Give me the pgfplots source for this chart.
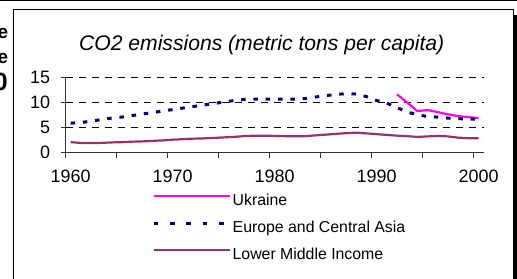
\documentclass[border=0pt]{standalone}
\usepackage{pgfplots}
\pgfplotsset{compat=1.18}
\usepackage{fontspec}
\setmainfont{Liberation Sans}
\definecolor{ukr}{RGB}{255,0,255}
\definecolor{eca}{RGB}{0,0,128}
\definecolor{lmi}{RGB}{153,51,102}
\pgfplotsset{ecaleg/.style={legend image code/.code={\draw[##1, dash pattern=on 4.7bp off 11.6bp] (0bp,5.7bp) -- (76bp,5.7bp);}}}
\begin{document}
\begin{tikzpicture}[x=1bp,y=1bp]
\useasboundingbox (0,0) rectangle (517,278);
\draw[line width=1.5bp] (0,277.3) -- (517,277.3);
\fill (513.5,-2) rectangle (517,263);
\draw[line width=1bp] (13.5,-5) -- (13.5,268.7) -- (513,268.7) -- (513,-5);
\node[anchor=base east, inner sep=0pt, font=\bfseries\fontsize{19}{19}\selectfont] at (8.3,239.7) {e};
\node[anchor=base east, inner sep=0pt, font=\bfseries\fontsize{19}{19}\selectfont] at (8.3,215) {e};
\node[anchor=base east, inner sep=0pt, font=\bfseries\fontsize{25}{25}\selectfont] at (8,188) {0};
\node[anchor=base, inner sep=0pt, font=\itshape\fontsize{21.2}{21.2}\selectfont] at (261.7,228) {CO2 emissions (metric tons per capita)};
\begin{axis}[
  at={(65.5bp,125.3bp)}, anchor=south west,
  width=418.2bp, height=75.2bp, scale only axis,
  xmin=1959.5, xmax=2000.5, ymin=0, ymax=15,
  axis lines*=left,
  axis line style={line width=0.9bp, black!80},
  tick align=outside, major tick length=5bp,
  tick style={line width=0.9bp, black!80},
  xtick={1959.5,1964.5,...,1999.5},
  xticklabels={},
  extra x ticks={1960,1970,1980,1990,2000},
  extra x tick labels={1960,1970,1980,1990,2000},
  extra x tick style={major tick length=0pt, grid=none},
  ytick={0,5,10,15},
  /pgf/number format/assume math mode=true,
  ymajorgrids,
  major grid style={black, line width=0.8bp, dash pattern=on 7bp off 6bp},
  tick label style={font=\fontsize{18}{18}\selectfont},
  x tick label style={yshift=-14bp},
  y tick label style={xshift=-7bp},
  legend style={at={(rel axis cs:0.2068,-0.552)}, anchor=north west,
    draw=none, fill=none, inner sep=0pt, row sep=12.1bp, column sep=1.5bp,
    font=\fontsize{15.9}{15.9}\selectfont,
    nodes={inner sep=0pt, text height=11.5bp, text depth=3.4bp}},
  legend cell align=left,
  legend image code/.code={\draw[#1] (0bp,5.7bp) -- (76bp,5.7bp);},
]
\addplot[ukr, line width=2.2bp, line join=round] coordinates {
(1992,11.65) (1993,10.0) (1994,8.3) (1995,8.5) (1996,8.1) (1997,7.65) (1998,7.3) (1999,7.1) (2000,6.9)};
\addlegendentry{Ukraine}
\addplot[eca, line width=3bp, dash pattern=on 4.5bp off 7.8bp, ecaleg] coordinates {
(1960,5.9) (1961,6.0) (1962,6.3) (1963,6.6) (1964,6.9) (1965,7.1) (1966,7.4) (1967,7.7) (1968,8.0) (1969,8.3)
(1970,8.6) (1971,8.9) (1972,9.2) (1973,9.5) (1974,9.8) (1975,10.1) (1976,10.4) (1977,10.6) (1978,10.7) (1979,10.7)
(1980,10.7) (1981,10.7) (1982,10.7) (1983,10.8) (1984,11.1) (1985,11.4) (1986,11.6) (1987,11.8) (1988,11.7) (1989,11.2)
(1990,10.4) (1991,9.9) (1992,9.0) (1993,8.1) (1994,7.6) (1995,7.2) (1996,7.1) (1997,6.9) (1998,6.8) (1999,6.7) (2000,6.7)};
\addlegendentry{Europe and Central Asia}
\addplot[lmi, line width=2.2bp, line join=round] coordinates {
(1960,2.1) (1961,1.95) (1962,1.95) (1963,1.95) (1964,2.05) (1965,2.1) (1966,2.2) (1967,2.25) (1968,2.35) (1969,2.45)
(1970,2.6) (1971,2.7) (1972,2.8) (1973,2.85) (1974,2.95) (1975,3.05) (1976,3.15) (1977,3.3) (1978,3.4) (1979,3.4)
(1980,3.35) (1981,3.3) (1982,3.3) (1983,3.3) (1984,3.45) (1985,3.6) (1986,3.75) (1987,3.9) (1988,4.0) (1989,3.85)
(1990,3.7) (1991,3.55) (1992,3.4) (1993,3.3) (1994,3.15) (1995,3.25) (1996,3.35) (1997,3.25) (1998,3.0) (1999,2.9) (2000,2.9)};
\addlegendentry{Lower Middle Income}
\end{axis}
\end{tikzpicture}
\end{document}
